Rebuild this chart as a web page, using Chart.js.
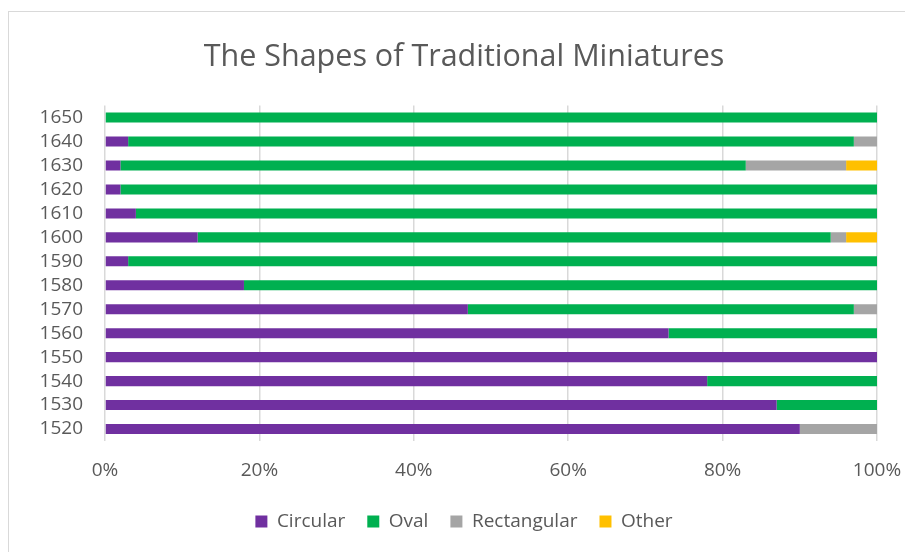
<!DOCTYPE html>
<html>
<head>
<meta charset="utf-8">
<script src="https://cdn.jsdelivr.net/npm/chart.js@4/dist/chart.umd.min.js"></script>
<style>
  html, body { margin: 0; padding: 0; background: #fff; overflow: hidden; }
  #frame { position: absolute; left: 8px; top: 11px; width: 1200px; height: 900px; border: 1px solid #d9d9d9; }
  #wrap { position: absolute; left: 0; top: 0; width: 905px; height: 552px; }
</style>
</head>
<body>
<div id="frame"></div>
<div id="wrap"><canvas id="shapes"></canvas></div>
<script>
var decades = ["1520", "1530", "1540", "1550", "1560", "1570", "1580",
               "1590", "1600", "1610", "1620", "1630", "1640", "1650"];
// percentages per decade
var circular    = [90, 87, 78, 100, 73, 47, 18,  3, 12,  4,  2,  2,  3,   0];
var oval        = [ 0, 13, 22,   0, 27, 50, 82, 97, 82, 96, 98, 81, 94, 100];
var rectangular = [10,  0,  0,   0,  0,  3,  0,  0,  2,  0,  0, 13,  3,   0];
var other       = [ 0,  0,  0,   0,  0,  0,  0,  0,  4,  0,  0,  4,  0,   0];
var xTicks = [0, 20, 40, 60, 80, 100];

var grey = "#595959";
var fontName = "'Open Sans', Lato, sans-serif";

function series(name, values, colour) {
    return {
        label: name,
        data: values,
        backgroundColor: colour,
        borderWidth: 0,
        categoryPercentage: 1,
        barPercentage: 0.42
    };
}

var ctx = document.getElementById("shapes").getContext("2d");
var shapesChart = new Chart(ctx, {
    type: "bar",
    data: {
        labels: decades,
        datasets: [
            series("Circular", circular, "#7030a0"),
            series("Oval", oval, "#00b050"),
            series("Rectangular", rectangular, "#a5a5a5"),
            series("Other", other, "#ffc000")
        ]
    },
    options: {
        indexAxis: "y",
        responsive: true,
        maintainAspectRatio: false,
        animation: false,
        // left padding shifts the title and legend centre to match the framed original
        layout: { padding: { left: 23, right: 0, top: 0, bottom: 11 } },
        plugins: {
            title: {
                display: true,
                text: "The Shapes of Traditional Miniatures",
                color: grey,
                font: { family: fontName, size: 30.5, weight: "normal" },
                padding: { top: 39, bottom: 30 }
            },
            legend: {
                position: "bottom",
                labels: {
                    color: grey,
                    font: { family: fontName, size: 19 },
                    boxWidth: 12,
                    boxHeight: 12,
                    padding: 22
                }
            },
            tooltip: { enabled: false }
        },
        scales: {
            x: {
                stacked: true,
                min: 0,
                max: 100,
                afterBuildTicks: function (scale) {
                    scale.ticks = xTicks.map(function (v) { return { value: v }; });
                },
                afterFit: function (scale) {
                    scale.height = 49;
                    scale.paddingLeft = 0;
                    scale.paddingRight = 28;
                },
                ticks: {
                    color: grey,
                    font: { family: fontName, size: 19 },
                    padding: 18,
                    callback: function (v) { return v + "%"; }
                },
                grid: { color: "#d9d9d9", lineWidth: 1.5, drawTicks: false },
                border: { display: false }
            },
            y: {
                stacked: true,
                reverse: true,
                afterFit: function (scale) { scale.width = 82; },
                ticks: {
                    color: grey,
                    font: { family: fontName, size: 19 },
                    padding: 22,
                    autoSkip: false
                },
                grid: { display: false, drawTicks: false },
                border: { display: false }
            }
        }
    }
});
</script>
</body>
</html>
